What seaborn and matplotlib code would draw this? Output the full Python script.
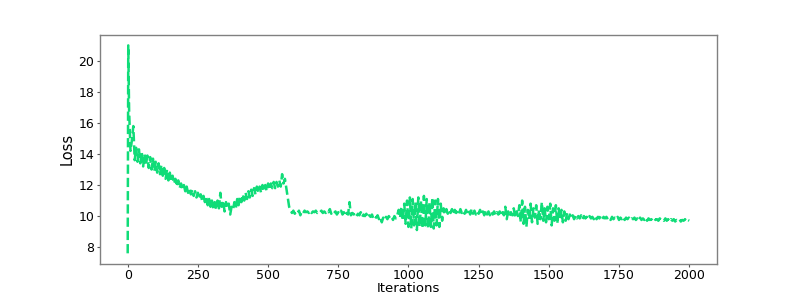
import numpy as np
import pandas as pd
import matplotlib
matplotlib.use("Agg")
import matplotlib.pyplot as plt
import seaborn as sns

# first iterations (big spike at the start)
head_iters = [0, 2]
head_loss = [7.6, 21.0]

body_iters = list(range(5, 2001, 5))
body_loss = [
    16.8, 14.2, 14.9, 15.8, 13.6, 14.4, 13.5, 14.3, 13.4, 14.1, 13.2, 14.0, 13.3, 13.9, 13.1, 13.8, 13.0, 13.7, 12.9, 13.5,
    12.8, 13.4, 12.7, 13.3, 12.6, 13.1, 12.4, 13.0, 12.3, 12.8, 12.2, 12.6, 12.1, 12.4, 11.9, 12.3, 11.8, 12.1, 11.7, 12.0,
    11.6, 11.9, 11.5, 11.8, 11.4, 11.7, 11.3, 11.6, 11.2, 11.5, 11.1, 11.4, 11.0, 11.3, 10.9, 11.2, 10.7, 11.1, 10.6, 11.0,
    10.5, 10.9, 10.4, 11.0, 10.5, 11.5, 10.6, 11.0, 10.3, 10.9, 10.5, 10.8, 10.1, 10.6, 10.4, 10.9, 10.5, 11.1, 10.7, 11.3,
    10.9, 11.4, 11.0, 11.5, 11.1, 11.6, 11.2, 11.7, 11.3, 11.8, 11.4, 11.9, 11.5, 11.9, 11.5, 12.0, 11.6, 12.0, 11.6, 12.1,
    11.7, 12.1, 11.8, 12.2, 11.8, 12.2, 11.9, 12.3, 11.9, 12.7, 12.1, 12.4, 11.8, 11.2, 10.6, 10.4, 10.2, 10.35, 10.15, 10.3,
    10.2, 10.35, 10.05, 10.3, 10.2, 10.35, 10.25, 10.3, 10.2, 10.35, 10.2, 10.3, 10.25, 10.35, 10.2, 10.3, 10.25, 10.35, 10.2, 10.3,
    10.2, 10.35, 10.25, 10.45, 10.15, 10.3, 10.2, 10.3, 10.1, 10.25, 10.15, 10.35, 10.1, 10.25, 10.0, 10.2, 10.1, 10.9, 10.05, 10.2,
    10.1, 10.2, 10.0, 10.15, 10.05, 10.25, 9.95, 10.1, 10.0, 10.15, 9.9, 10.05, 9.95, 10.1, 9.85, 10.0, 9.9, 10.05, 9.8, 9.95,
    9.6, 9.9, 9.75, 9.95, 9.8, 10.0, 9.85, 9.95, 9.75, 10.0, 9.85, 10.05, 10.4, 9.9, 10.6, 9.7, 10.8, 9.5, 11.0, 9.3,
    11.2, 9.2, 11.1, 9.4, 10.9, 9.1, 11.2, 9.3, 11.0, 9.2, 11.3, 9.4, 11.1, 9.2, 10.9, 9.3, 11.2, 9.2, 11.0, 9.4,
    11.1, 9.3, 10.8, 9.7, 10.5, 10.1, 10.45, 10.15, 10.4, 10.2, 10.45, 10.1, 10.4, 10.2, 10.35, 10.15, 10.45, 10.2, 10.35, 10.15,
    10.4, 10.15, 10.35, 10.1, 10.45, 10.15, 10.35, 10.1, 10.3, 10.15, 10.4, 10.1, 10.3, 10.05, 10.35, 10.1, 10.3, 10.05, 10.3, 10.1,
    10.3, 10.05, 10.25, 10.1, 10.3, 10.0, 10.25, 10.05, 10.6, 9.8, 10.3, 10.0, 10.25, 10.05, 10.5, 9.9, 10.3, 10.0, 10.7, 9.6,
    11.0, 9.5, 10.6, 9.3, 10.4, 9.8, 10.8, 9.6, 10.5, 9.9, 10.7, 9.5, 10.4, 9.8, 10.9, 9.7, 10.5, 9.6, 10.6, 9.8,
    10.8, 9.4, 10.5, 9.7, 10.7, 9.5, 10.5, 9.8, 10.4, 9.6, 10.3, 9.7, 10.2, 9.8, 10.1, 9.85, 10.05, 9.8, 10.05, 9.85,
    10.0, 9.85, 10.05, 9.8, 10.0, 9.85, 9.95, 9.8, 10.0, 9.85, 9.95, 9.8, 10.0, 9.8, 9.95, 9.85, 10.0, 9.8, 9.95, 9.85,
    9.95, 9.8, 9.9, 9.75, 9.95, 9.8, 9.9, 9.8, 9.95, 9.75, 9.9, 9.8, 9.95, 9.75, 9.9, 9.8, 9.9, 9.75, 9.85, 9.8,
    9.9, 9.75, 9.85, 9.7, 9.9, 9.75, 9.85, 9.75, 9.9, 9.7, 9.85, 9.75, 9.8, 9.7, 9.85, 9.75, 9.8, 9.7, 9.85, 9.75,
    9.8, 9.7, 9.85, 9.7, 9.8, 9.65, 9.8, 9.7, 9.8, 9.65, 9.75, 9.7, 9.8, 9.65, 9.75, 9.7, 9.8, 9.65, 9.75, 9.7,
]

df = pd.DataFrame({
    "Iterations": head_iters + body_iters,
    "Loss": head_loss + body_loss,
})

fig, ax = plt.subplots(figsize=(7.97, 2.99), dpi=100)
fig.subplots_adjust(left=0.125, right=0.9, top=0.883, bottom=0.118)
sns.lineplot(data=df, x="Iterations", y="Loss", ax=ax,
             color="#10dc78", linestyle="--", dashes=(3.5, 0.8), linewidth=1.8)

ax.set_xticks([0, 250, 500, 750, 1000, 1250, 1500, 1750, 2000])
ax.tick_params(labelsize=9, color="#555555", length=2.2, pad=1.6)
for sp in ax.spines.values():
    sp.set_color("#808080")
    sp.set_linewidth(1.0)
ax.set_xlabel("Iterations", fontsize=9.5, labelpad=0)
ax.set_ylabel("Loss", fontsize=10.5, labelpad=3)

fig.savefig("out.png", dpi=100)
